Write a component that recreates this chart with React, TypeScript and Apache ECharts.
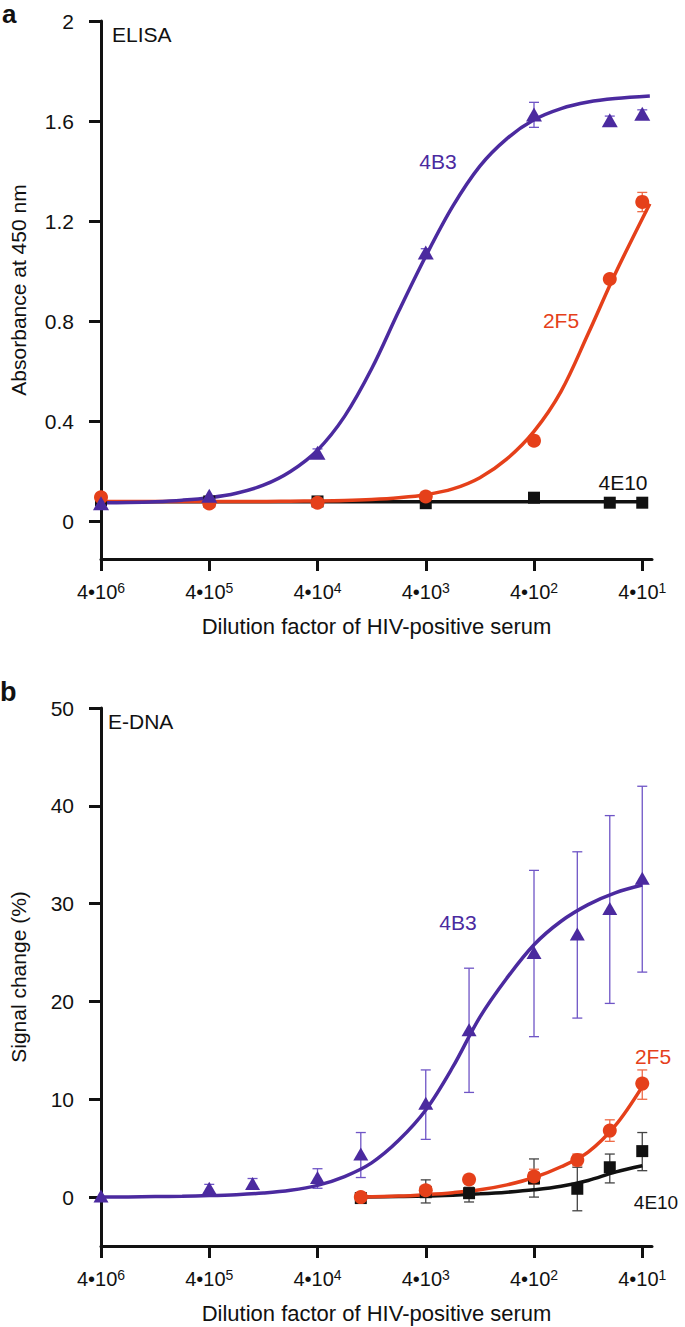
import React, { useEffect, useRef } from "react";
import * as echarts from "echarts";

const FONT = '"Liberation Sans", Arial, Helvetica, sans-serif';
const PURPLE = "#4b2a9f";
const RED = "#e5401a";
const BLACK = "#111111";
const PURPLE_ERR = "#6f55c6";
const RED_ERR = "#ee6b47";
const BLACK_ERR = "#444444";

// x positions are decades below 4·10^6 (0 → 4·10^6, 5 → 4·10^1)
const xTickValues = [0, 1, 2, 3, 4, 5];
const xTickExponents = ["6", "5", "4", "3", "2", "1"];
const yTicksA = [0, 0.4, 0.8, 1.2, 1.6, 2];
const yTicksB = [0, 10, 20, 30, 40, 50];

// ---- Panel a (ELISA) ----
const aX = [0, 1, 2, 3, 4, 4.7, 5];
const a4B3 = [0.073, 0.103, 0.275, 1.075, 1.626, 1.603, 1.629];
const a2F5 = [0.097, 0.072, 0.075, 0.1, 0.323, 0.969, 1.277];
const a4E10 = [0.085, 0.08, 0.08, 0.073, 0.095, 0.075, 0.075];
const a4B3Err = [
  [2, 0.26, 0.29],
  [3, 1.06, 1.09],
  [4, 1.575, 1.675],
  [4.7, 1.585, 1.62],
  [5, 1.61, 1.645],
];
const a2F5Err = [[5, 1.238, 1.315]];
const aFitX = [0, 0.25, 0.5, 0.75, 1, 1.25, 1.5, 1.75, 2, 2.25, 2.5, 2.75, 3, 3.25, 3.5, 3.75, 4, 4.25, 4.5, 4.75, 5.07];
const aFit4B3 = [0.075, 0.076, 0.079, 0.085, 0.095, 0.113, 0.145, 0.2, 0.285, 0.42, 0.61, 0.84, 1.06, 1.26, 1.42, 1.53, 1.605, 1.65, 1.676, 1.69, 1.7];
const aFit2F5 = [0.08, 0.08, 0.08, 0.08, 0.08, 0.08, 0.08, 0.081, 0.082, 0.084, 0.088, 0.095, 0.107, 0.13, 0.175, 0.25, 0.36, 0.52, 0.75, 0.99, 1.27];
const aFit4E10X = [0, 5];
const aFit4E10 = [0.079, 0.079];

// ---- Panel b (E-DNA) ----
const bX4B3 = [0, 1, 1.4, 2, 2.4, 3, 3.4, 4, 4.4, 4.7, 5];
const b4B3 = [0.1, 0.9, 1.4, 2.0, 4.4, 9.6, 17.1, 25.0, 26.9, 29.5, 32.6];
const b4B3Err = [
  [1, 0.5, 1.3],
  [1.4, 0.9, 1.9],
  [2, 0.9, 2.9],
  [2.4, 2.0, 6.6],
  [3, 5.9, 13.0],
  [3.4, 10.7, 23.4],
  [4, 16.4, 33.4],
  [4.4, 18.3, 35.3],
  [4.7, 19.8, 39.0],
  [5, 23.0, 42.0],
];
const bX = [2.4, 3, 3.4, 4, 4.4, 4.7, 5];
const b2F5 = [0.0, 0.7, 1.8, 2.1, 3.8, 6.8, 11.6];
const b2F5Err = [
  [3, 0.3, 1.1],
  [3.4, 1.4, 2.2],
  [4, 1.35, 2.85],
  [4.4, 3.2, 4.4],
  [4.7, 5.7, 7.9],
  [5, 10.0, 13.0],
];
const b4E10 = [-0.1, 0.5, 0.4, 1.9, 0.85, 3.05, 4.7];
const b4E10Err = [
  [3, -0.6, 1.76],
  [3.4, -0.5, 1.0],
  [4, 0.0, 3.9],
  [4.4, -1.4, 3.05],
  [4.7, 1.45, 4.4],
  [5, 2.7, 6.6],
];
const bFit4B3X = [0, 0.25, 0.5, 0.75, 1, 1.25, 1.5, 1.75, 2, 2.25, 2.5, 2.75, 3, 3.25, 3.5, 3.75, 4, 4.25, 4.5, 4.75, 5];
const bFit4B3 = [0, 0.02, 0.05, 0.09, 0.15, 0.25, 0.42, 0.7, 1.2, 2.1, 3.5, 5.8, 8.9, 13.3, 18.4, 22.4, 25.8, 28.2, 29.9, 31.1, 31.9];
const bFitX = [2.4, 2.75, 3, 3.25, 3.5, 3.75, 4, 4.25, 4.5, 4.75, 5];
const bFit2F5 = [0, 0.1, 0.25, 0.45, 0.75, 1.25, 2.0, 3.1, 4.6, 7.3, 11.3];
const bFit4E10 = [0, 0.05, 0.1, 0.2, 0.33, 0.5, 0.74, 1.1, 1.7, 2.55, 3.2];

const zip = (xs: number[], ys: number[]) => xs.map((x, i) => [x, ys[i]]);

function xAxisFor(gridIndex: number) {
  return {
    type: "value",
    gridIndex,
    min: 0,
    max: 5.09,
    name: "Dilution factor of HIV-positive serum",
    nameLocation: "middle",
    nameGap: 56,
    nameTextStyle: { fontFamily: FONT, fontSize: 22, color: BLACK },
    axisLine: { show: true, onZero: false, lineStyle: { color: BLACK, width: 3 } },
    axisTick: { show: true, length: 12, inside: false, customValues: xTickValues, lineStyle: { color: BLACK, width: 3 } },
    splitLine: { show: false },
    axisLabel: {
      customValues: xTickValues,
      margin: 22,
      formatter: (v: number) => {
        const i = xTickValues.indexOf(Math.round(v));
        return `{m|4•10}{s|${xTickExponents[i]}}`;
      },
      rich: {
        m: { fontFamily: FONT, fontSize: 20, color: BLACK, lineHeight: 22 },
        s: { fontFamily: FONT, fontSize: 14, color: BLACK, lineHeight: 22, verticalAlign: "top" },
      },
    },
  };
}

function yAxisFor(gridIndex: number, min: number, max: number, ticks: number[], name: string) {
  return {
    type: "value",
    gridIndex,
    min,
    max,
    name,
    nameLocation: "middle",
    nameGap: 72,
    nameTextStyle: { fontFamily: FONT, fontSize: 21, color: BLACK },
    axisLine: { show: true, onZero: false, lineStyle: { color: BLACK, width: 3 } },
    axisTick: { show: true, length: 12, inside: false, customValues: ticks, lineStyle: { color: BLACK, width: 3 } },
    splitLine: { show: false },
    axisLabel: {
      customValues: ticks,
      margin: 27,
      fontFamily: FONT,
      fontSize: 21,
      color: BLACK,
      formatter: (v: number) => String(v),
    },
  };
}

function fitSeries(data: number[][], color: string, axis: number) {
  return {
    type: "line",
    xAxisIndex: axis,
    yAxisIndex: axis,
    data,
    smooth: 0.35,
    showSymbol: false,
    symbol: "none",
    lineStyle: { color, width: 3.5 },
    z: 3,
    silent: true,
  };
}

function pointSeries(data: number[][], color: string, symbol: string, size: any, axis: number) {
  return {
    type: "scatter",
    xAxisIndex: axis,
    yAxisIndex: axis,
    data,
    symbol,
    symbolSize: size,
    itemStyle: { color, opacity: 1 },
    z: 4,
    silent: true,
  };
}

function errSeries(data: number[][], color: string, axis: number) {
  return {
    type: "custom",
    xAxisIndex: axis,
    yAxisIndex: axis,
    data,
    z: 2,
    silent: true,
    encode: { x: 0, y: [1, 2] },
    renderItem: (_params: any, api: any) => {
      const x = api.value(0);
      const lo = api.coord([x, api.value(1)]);
      const hi = api.coord([x, api.value(2)]);
      const cap = 5;
      const style = { stroke: color, lineWidth: 1.3 };
      return {
        type: "group",
        children: [
          { type: "line", shape: { x1: lo[0], y1: lo[1], x2: hi[0], y2: hi[1] }, style },
          { type: "line", shape: { x1: lo[0] - cap, y1: lo[1], x2: lo[0] + cap, y2: lo[1] }, style },
          { type: "line", shape: { x1: hi[0] - cap, y1: hi[1], x2: hi[0] + cap, y2: hi[1] }, style },
        ],
      };
    },
  };
}

function label(text: string, x: number, y: number, color: string, size = 21, weight = "normal", align = "center") {
  return {
    type: "text",
    x,
    y,
    z: 10,
    style: {
      text,
      fill: color,
      fontFamily: FONT,
      fontSize: size,
      fontWeight: weight,
      align,
      verticalAlign: "middle",
      textAlign: align,
      textVerticalAlign: "middle",
    },
  };
}

export default function App() {
  const ref = useRef<HTMLDivElement>(null);
  useEffect(() => {
    document.body.style.margin = "0";
    if (!ref.current) return;
    const chart = echarts.init(ref.current, undefined, { renderer: "svg" });
    const option: any = {
      animation: false,
      backgroundColor: "#ffffff",
      grid: [
        { left: 96, top: 21, width: 556, height: 538 },
        { left: 96, top: 708, width: 556, height: 538 },
      ],
      xAxis: [xAxisFor(0), xAxisFor(1)],
      yAxis: [
        yAxisFor(0, -0.15, 2, yTicksA, "Absorbance at 450 nm"),
        yAxisFor(1, -5, 50, yTicksB, "Signal change (%)"),
      ],
      series: [
        // panel a
        errSeries(a4B3Err, PURPLE_ERR, 0),
        errSeries(a2F5Err, RED_ERR, 0),
        fitSeries(zip(aFit4E10X, aFit4E10), BLACK, 0),
        fitSeries(zip(aFitX, aFit2F5), RED, 0),
        fitSeries(zip(aFitX, aFit4B3), PURPLE, 0),
        pointSeries(zip(aX, a4E10), BLACK, "rect", 12, 0),
        pointSeries(zip(aX, a2F5), RED, "circle", 14, 0),
        pointSeries(zip(aX, a4B3), PURPLE, "triangle", [16, 14], 0),
        // panel b
        errSeries(b4E10Err, BLACK_ERR, 1),
        errSeries(b2F5Err, RED_ERR, 1),
        errSeries(b4B3Err, PURPLE_ERR, 1),
        fitSeries(zip(bFitX, bFit4E10), BLACK, 1),
        fitSeries(zip(bFitX, bFit2F5), RED, 1),
        fitSeries(zip(bFit4B3X, bFit4B3), PURPLE, 1),
        pointSeries(zip(bX, b4E10), BLACK, "rect", 12, 1),
        pointSeries(zip(bX, b2F5), RED, "circle", 14, 1),
        pointSeries(zip(bX4B3, b4B3), PURPLE, "triangle", [15, 13], 1),
      ],
      graphic: [
        label("a", 2, 14, BLACK, 26, "bold", "left"),
        label("b", 0, 692, BLACK, 27, "bold", "left"),
        label("ELISA", 112, 34, BLACK, 21, "normal", "left"),
        label("E-DNA", 108, 721, BLACK, 21, "normal", "left"),
        label("4B3", 438, 161, PURPLE),
        label("2F5", 561, 320, RED),
        label("4E10", 623, 482, BLACK),
        label("4B3", 458, 922, PURPLE),
        label("2F5", 653, 1056, RED),
        label("4E10", 656, 1202, BLACK, 19),
      ],
    };
    chart.setOption(option);
    return () => chart.dispose();
  }, []);
  return <div ref={ref} style={{ width: 685, height: 1327 }} />;
}
